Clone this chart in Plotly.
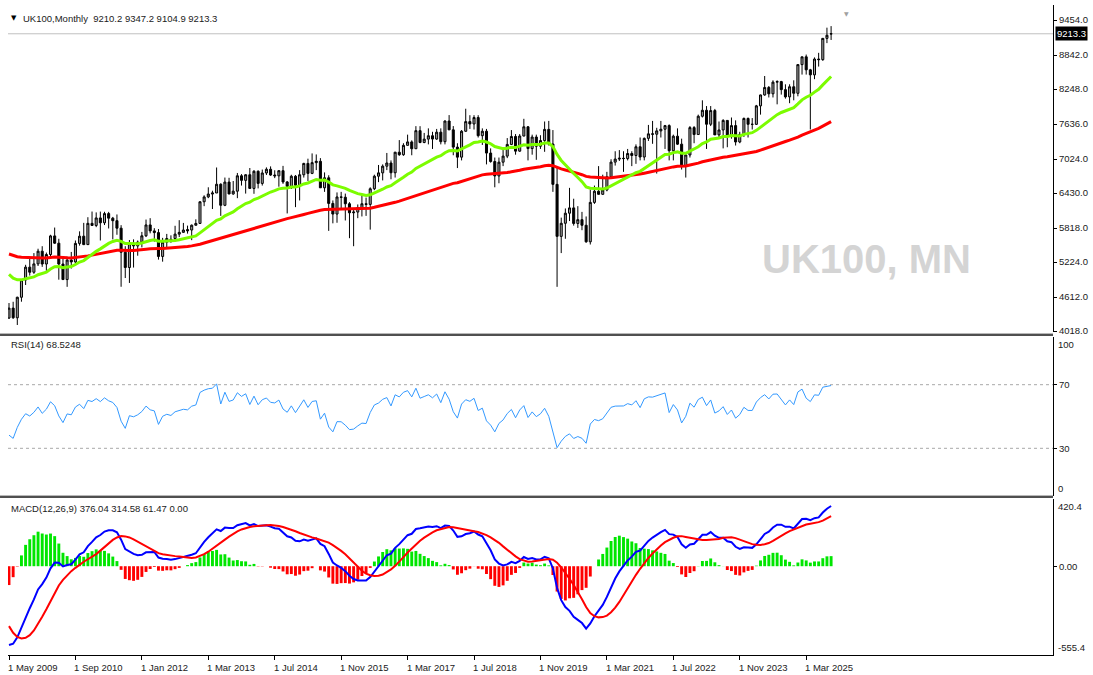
import plotly.graph_objects as go

# ---------------- DATA ----------------
# monthly closes before the visible window (Jan 2000 - Apr 2009), used only for indicator warm-up
hist_closes = [
    6269, 6233, 6540, 6327, 6360, 6313, 6365, 6673, 6294, 6438, 6142, 6223,
    6297, 5918, 5634, 5967, 5797, 5643, 5529, 5345, 4903, 5040, 5204, 5217,
    5165, 5102, 5272, 5166, 5086, 4656, 4246, 4227, 3722, 4039, 4169, 3940,
    3567, 3656, 3613, 3926, 4049, 4031, 4157, 4161, 4091, 4288, 4342, 4477,
    4391, 4492, 4386, 4489, 4431, 4464, 4413, 4459, 4571, 4624, 4703, 4814,
    4852, 4968, 4894, 4801, 4964, 5113, 5282, 5296, 5478, 5317, 5423, 5619,
    5760, 5792, 5965, 6023, 5723, 5833, 5928, 5906, 5961, 6129, 6048, 6221,
    6203, 6172, 6308, 6449, 6621, 6608, 6360, 6303, 6467, 6722, 6433, 6457,
    5880, 5885, 5702, 6087, 6053, 5626, 5412, 5637, 4902, 4377, 4288, 4434,
    4150, 3830, 3926, 4244,
]

# visible monthly bars (May 2009 - Sep 2025)
opens = [
    4244, 4418, 4249, 4608, 4909, 5134, 5045, 5191,
    5413, 5189, 5355, 5680, 5553, 5188, 4917, 5258, 5225, 5549, 5675, 5528,
    5900, 5863, 5994, 5909, 6070, 5990, 5946, 5815, 5395, 5128, 5544, 5505,
    5572, 5682, 5872, 5768, 5738, 5321, 5571, 5620, 5635, 5711, 5742, 5790, 5783, 5867,
    5898, 6277, 6361, 6412, 6430, 6583, 6215, 6621, 6413, 6462, 6731, 6651,
    6749, 6510, 6810, 6598, 6780, 6845, 6744, 6730, 6820, 6623, 6546, 6723,
    6566, 6749, 6947, 6773, 6961, 6984, 6521, 6696, 6248, 6062, 6361, 6356,
    6242, 6084, 6097, 6175, 6242, 6231, 6504, 6724, 6782, 6899, 6954, 6784,
    7143, 7099, 7263, 7323, 7204, 7520, 7313, 7372, 7431, 7373, 7493, 7327,
    7688, 7534, 7232, 7057, 7509, 7678, 7637, 7749, 7432, 7510, 7128, 6980,
    6728, 6969, 7075, 7279, 7418, 7162, 7426, 7587, 7207, 7408, 7248, 7347,
    7542, 7286, 6581, 5672, 5901, 6077, 6170, 5898, 5964, 5866, 5577, 6266,
    6461, 6407, 6483, 6714, 6970, 7023, 7037, 7032, 7120, 7086, 7238, 7059,
    7385, 7464, 7458, 7516, 7545, 7608, 7169, 7423, 7284, 6894, 7095, 7573,
    7452, 7772, 7876, 7632, 7871, 7446, 7532, 7699, 7439, 7608, 7322, 7454,
    7733, 7631, 7630, 7953, 8144, 8275, 8164, 8368, 8377, 8237, 8110, 8287,
    8173, 8674, 8810, 8583, 8495, 8772, 8761, 9133, 9210.2,
]
highs = [
    4507, 4529, 4617, 4920, 5175, 5300, 5380, 5456,
    5500, 5389, 5700, 5826, 5630, 5320, 5318, 5400, 5600, 5760, 5908, 6007,
    6106, 6091, 6105, 6102, 6100, 6012, 6055, 5868, 5500, 5608, 5620, 5600,
    5750, 5966, 5990, 5815, 5800, 5646, 5715, 5690, 5857, 5955, 5907, 5860, 5880, 5970,
    6280, 6390, 6530, 6470, 6876, 6600, 6700, 6696, 6640, 6780, 6760, 6760,
    6867, 6830, 6826, 6840, 6878, 6895, 6828, 6830, 6904, 6640, 6749, 6744,
    6830, 6958, 7030, 7122, 7104, 7040, 6790, 6740, 6300, 6440, 6450, 6420,
    6270, 6150, 6230, 6410, 6350, 6530, 6750, 6920, 6930, 7130, 7000, 7150,
    7355, 7300, 7450, 7350, 7599, 7598, 7480, 7560, 7500, 7550, 7560, 7700,
    7792, 7600, 7300, 7530, 7903, 7790, 7790, 7790, 7560, 7550, 7210, 7050,
    7050, 7220, 7390, 7530, 7460, 7460, 7727, 7600, 7450, 7450, 7440, 7680,
    7690, 7530, 6900, 6000, 6160, 6520, 6330, 6200, 6100, 6020, 6490, 6560,
    6900, 6750, 6800, 7020, 7160, 7180, 7160, 7200, 7160, 7280, 7400, 7400,
    7620, 7690, 7570, 7690, 7620, 7630, 7450, 7560, 7380, 7100, 7600, 7600,
    7800, 8050, 7950, 7950, 7900, 7680, 7720, 7700, 7750, 7700, 7500, 7750,
    7750, 7740, 7970, 8150, 8475, 8300, 8400, 8400, 8390, 8330, 8330, 8400,
    8680, 8800, 8850, 8600, 8800, 8880, 9140, 9320, 9347.2,
]
lows = [
    4230, 4230, 4123, 4530, 4822, 4987, 5017, 5154,
    5139, 5044, 5300, 5541, 4915, 4909, 4790, 5110, 5180, 5510, 5520, 5540,
    5860, 5833, 5600, 5870, 5810, 5620, 5700, 4791, 4944, 4858, 5127, 5334,
    5480, 5660, 5725, 5580, 5266, 5230, 5480, 5560, 5588, 5660, 5737, 5720, 5606, 5860,
    5898, 6200, 6340, 6150, 6430, 6030, 6200, 6410, 6400, 6340, 6560, 6420,
    6510, 6416, 6510, 6560, 6745, 6730, 6690, 6540, 6590, 6073, 6500, 6183,
    6300, 6700, 6640, 6760, 6830, 6520, 6450, 5768, 5900, 5910, 6160, 5950,
    5640, 5500, 5990, 6020, 6030, 5790, 6480, 6620, 6650, 6830, 6670, 6700,
    7080, 7080, 7260, 7090, 7200, 7300, 7300, 7280, 7200, 7360, 7280, 7280,
    7530, 7090, 6866, 7000, 7500, 7550, 7540, 7400, 7270, 6930, 6960, 6530,
    6600, 6900, 7040, 7270, 7100, 7150, 7420, 7000, 7100, 7010, 7200, 7150,
    7260, 6450, 4790, 5380, 5630, 5940, 5860, 5820, 5780, 5560, 5530, 6240,
    6400, 6400, 6460, 6690, 6910, 6990, 6800, 7000, 6900, 6940, 7000, 7000,
    7340, 7290, 6770, 7400, 7200, 7000, 7000, 7270, 6840, 6700, 7050, 7300,
    7450, 7750, 7200, 7600, 7500, 7400, 7210, 7230, 7380, 7260, 7300, 7410,
    7400, 7540, 7620, 7800, 8130, 8100, 8100, 7980, 8150, 8080, 8000, 8050,
    8120, 8500, 8500, 7540, 8420, 8640, 8740, 9050, 9104.9,
]
closes = [
    4418, 4249, 4608, 4909, 5134, 5045, 5191, 5413,
    5189, 5355, 5680, 5553, 5188, 4917, 5258, 5225, 5549, 5675, 5528, 5900,
    5863, 5994, 5909, 6070, 5990, 5946, 5815, 5395, 5128, 5544, 5505, 5572,
    5682, 5872, 5768, 5738, 5321, 5571, 5635, 5600, 5711, 5742, 5783, 5770, 5867, 5898,
    6277, 6361, 6412, 6430, 6583, 6215, 6621, 6413, 6462, 6731, 6651, 6749,
    6510, 6810, 6598, 6780, 6845, 6744, 6730, 6820, 6623, 6546, 6723, 6566,
    6749, 6947, 6773, 6961, 6984, 6521, 6696, 6248, 6062, 6361, 6356, 6242,
    6084, 6097, 6175, 6242, 6231, 6504, 6724, 6782, 6899, 6954, 6784, 7143,
    7099, 7263, 7323, 7204, 7520, 7313, 7372, 7431, 7373, 7493, 7327, 7688,
    7534, 7232, 7057, 7509, 7678, 7637, 7749, 7432, 7510, 7128, 6980, 6728,
    6969, 7075, 7279, 7418, 7162, 7426, 7587, 7207, 7408, 7248, 7347, 7542,
    7286, 6581, 5672, 5901, 6077, 6170, 5898, 5964, 5866, 5577, 6266, 6461,
    6407, 6483, 6714, 6970, 7023, 7037, 7032, 7120, 7086, 7238, 7059, 7385,
    7464, 7458, 7516, 7545, 7608, 7169, 7423, 7284, 6894, 7095, 7573, 7452,
    7772, 7876, 7632, 7871, 7446, 7532, 7699, 7439, 7608, 7322, 7454, 7733,
    7631, 7630, 7953, 8144, 8275, 8164, 8368, 8377, 8237, 8110, 8287, 8173,
    8674, 8810, 8583, 8495, 8772, 8761, 9133, 9187, 9213.3,
]

tick_labels = ["1 May 2009", "1 Sep 2010", "1 Jan 2012", "1 Mar 2013", "1 Jul 2014",
               "1 Nov 2015", "1 Mar 2017", "1 Jul 2018", "1 Nov 2019", "1 Mar 2021",
               "1 Jul 2022", "1 Nov 2023", "1 Mar 2025"]
tick_bars = [0, 16, 32, 48, 64, 80, 96, 112, 128, 144, 160, 176, 192]
price_ticks = [4018.0, 4612.0, 5224.0, 5818.0, 6430.0, 7024.0, 7636.0, 8248.0, 8842.0, 9454.0]
macd_min, macd_max = -555.4, 420.4
rsi_text = "RSI(14) 68.5248"
macd_text = "MACD(12,26,9) 376.04 314.58 61.47 0.00"
symbol_text = "UK100,Monthly"
watermark = "UK100, MN"

# ---------------- INDICATORS ----------------
all_c = hist_closes + closes
nh = len(hist_closes)

def sma(v, n):
    out = [None] * len(v)
    for i in range(n - 1, len(v)):
        out[i] = sum(v[i - n + 1:i + 1]) / n
    return out

def ema(v, n):
    k = 2.0 / (n + 1)
    out = [v[0]]
    for x in v[1:]:
        out.append(x * k + out[-1] * (1 - k))
    return out

def smma(v, n):
    out = [v[0]]
    for x in v[1:]:
        out.append((out[-1] * (n - 1) + x) / n)
    return out

def rsi(v, n=14):
    out = [None] * len(v)
    gains = [max(v[i] - v[i - 1], 0) for i in range(1, len(v))]
    losses = [max(v[i - 1] - v[i], 0) for i in range(1, len(v))]
    ag = sum(gains[:n]) / n
    al = sum(losses[:n]) / n
    out[n] = 100 - 100 / (1 + ag / al) if al else 100
    for i in range(n + 1, len(v)):
        ag = (ag * (n - 1) + gains[i - 1]) / n
        al = (al * (n - 1) + losses[i - 1]) / n
        out[i] = 100 - 100 / (1 + ag / al) if al else 100
    return out

ma_fast = ema(all_c, 22)[nh:]
ma_slow = smma(all_c, 40)[nh:]
rsi_v = rsi(all_c, 14)[nh:]
e12, e26 = ema(all_c, 12), ema(all_c, 26)
macd_all = [a - b for a, b in zip(e12, e26)]
sig_all = sma(macd_all, 9)
macd_v = macd_all[nh:]
sig_v = sig_all[nh:]
hist_v = [m - s for m, s in zip(macd_v, sig_v)]

xs = list(range(len(closes)))

# ---------------- LAYOUT GEOMETRY (pixels) ----------------
W, H = 1093, 675
PL, PR, PT, PB = 8, 1055, 5, 655
X0_PX, BAR_PX = 9, 4.16
def fx(px): return (px - PL) / (PR - PL)
def fy(py): return (PB - py) / (PB - PT)
x_lo = (PL - X0_PX) / BAR_PX
x_hi = (PR - X0_PX) / BAR_PX
# price scale calibration from label positions
p_hi, p_hi_px, p_lo, p_lo_px = 9454.0, 20, 4018.0, 331
ppx = (p_hi - p_lo) / (p_lo_px - p_hi_px)
main_top_px, main_bot_px = PT, 332
rsi_top_px, rsi_bot_px = 337, 496
macd_top_px, macd_bot_px = 499, PB
y_range = [p_lo - (main_bot_px - p_lo_px) * ppx, p_hi + (p_hi_px - main_top_px) * ppx]

FONT = "Liberation Sans, Arial, sans-serif"
FS = 9.5
TXT = "#1a1a1a"

fig = go.Figure()
fig.add_trace(go.Candlestick(
    x=xs, open=opens, high=highs, low=lows, close=closes,
    increasing=dict(line=dict(color="black", width=1), fillcolor="#A0A0A0"),
    decreasing=dict(line=dict(color="black", width=1), fillcolor="black"),
    whiskerwidth=0, xaxis="x", yaxis="y", showlegend=False, hoverinfo="skip"))
fig.add_trace(go.Scatter(x=xs, y=ma_slow, mode="lines", line=dict(color="#FF0000", width=3),
                         xaxis="x", yaxis="y", hoverinfo="skip"))
fig.add_trace(go.Scatter(x=xs, y=ma_fast, mode="lines", line=dict(color="#7CFC00", width=3),
                         xaxis="x", yaxis="y", hoverinfo="skip"))
fig.add_trace(go.Scatter(x=xs, y=rsi_v, mode="lines", line=dict(color="#3399FF", width=1),
                         xaxis="x", yaxis="y2", hoverinfo="skip"))
fig.add_trace(go.Bar(x=xs, y=hist_v, width=0.7,
                     marker=dict(color=["#00E600" if v > 0 else "#FF0000" for v in hist_v], line=dict(width=0)),
                     xaxis="x", yaxis="y3", hoverinfo="skip"))
fig.add_trace(go.Scatter(x=xs, y=macd_v, mode="lines", line=dict(color="#0000FF", width=2),
                         xaxis="x", yaxis="y3", hoverinfo="skip"))
fig.add_trace(go.Scatter(x=xs, y=sig_v, mode="lines", line=dict(color="#FF0000", width=2),
                         xaxis="x", yaxis="y3", hoverinfo="skip"))

axis_common = dict(showgrid=False, zeroline=False, showline=True, linecolor="black", linewidth=1,
                   side="right", anchor="x", ticks="outside", ticklen=3, tickcolor="black",
                   tickfont=dict(family=FONT, size=FS, color=TXT), fixedrange=True)

fig.update_layout(
    width=W, height=H, margin=dict(l=PL, r=W - PR, t=PT, b=H - PB),
    paper_bgcolor="white", plot_bgcolor="white", showlegend=False,
    xaxis=dict(domain=[0, 1], range=[x_lo, x_hi], anchor="y3", showgrid=False, zeroline=False,
               showline=True, linecolor="black", linewidth=1, ticks="outside", ticklen=4,
               tickcolor="black", tickvals=tick_bars, showticklabels=False,
               rangeslider=dict(visible=False), fixedrange=True),
    yaxis=dict(domain=[fy(main_bot_px), fy(main_top_px)], range=y_range,
               tickvals=price_ticks, ticktext=[f"{v:.1f}" for v in price_ticks], **axis_common),
    yaxis2=dict(domain=[fy(rsi_bot_px), fy(rsi_top_px)], range=[0, 100],
                tickvals=[30, 70], ticktext=["30", "70"], **axis_common),
    yaxis3=dict(domain=[fy(macd_bot_px), fy(macd_top_px)], range=[macd_min, macd_max],
                tickvals=[0], ticktext=["0.00"], **axis_common),
)

shapes = []
# current price line
shapes.append(dict(type="line", xref="paper", yref="y", x0=0, x1=1, y0=closes[-1], y1=closes[-1],
                   line=dict(color="#C0C0C0", width=1), layer="below"))
# RSI levels
for lvl in (70, 30):
    shapes.append(dict(type="line", xref="paper", yref="y2", x0=0, x1=1, y0=lvl, y1=lvl,
                       line=dict(color="#A8A8A8", width=1, dash="dot"), layer="below"))
# panel separators
for top in (main_bot_px + 1, rsi_bot_px - 1):
    shapes.append(dict(type="rect", xref="paper", yref="paper", x0=fx(0), x1=1,
                       y0=fy(top), y1=fy(top + 1), fillcolor="#B8B8B8", line=dict(width=0)))
    shapes.append(dict(type="rect", xref="paper", yref="paper", x0=fx(0), x1=1,
                       y0=fy(top + 1), y1=fy(top + 3), fillcolor="#505050", line=dict(width=0)))
fig.update_layout(shapes=shapes)

ann = []
def txt(x, y, s, xref="paper", yref="paper", xanchor="left", yanchor="middle", size=FS, color=TXT, **kw):
    ann.append(dict(x=x, y=y, xref=xref, yref=yref, text=s, showarrow=False, xanchor=xanchor,
                    yanchor=yanchor, font=dict(family=FONT, size=size, color=color), **kw))

ann.append(dict(x=fx(14), y=fy(18), xref="paper", yref="paper", text="▼", showarrow=False,
                xanchor="center", yanchor="middle",
                font=dict(family="DejaVu Sans", size=7, color="black")))
txt(fx(21), fy(18), f"{symbol_text}  {opens[-1]:.1f} {highs[-1]:.1f} {lows[-1]:.1f} {closes[-1]:.1f}")
txt(fx(9), fy(345), rsi_text)
txt(fx(9), fy(509), macd_text)
for b, lab in zip(tick_bars, tick_labels):
    txt(b, fy(667), lab, xref="x", xshift=-3)
# inner extreme labels for indicator panes
txt(1, 100, "100", yref="y2", yanchor="top", xshift=3)
txt(1, 0, "0", yref="y2", yanchor="bottom", xshift=3)
txt(1, macd_max, f"{macd_max:.1f}", yref="y3", yanchor="top", xshift=3)
txt(1, macd_min, f"{macd_min:.1f}", yref="y3", yanchor="bottom", xshift=3)
# current price tag
ann.append(dict(x=1, y=closes[-1], xref="paper", yref="y", text=f"{closes[-1]:.1f}", showarrow=False,
                xanchor="left", yanchor="middle", xshift=2, bgcolor="black", borderpad=1,
                font=dict(family=FONT, size=FS, color="white")))
# watermark
ann.append(dict(x=fx(868), y=fy(259), xref="paper", yref="paper", text=f"<b>{watermark}</b>",
                showarrow=False, xanchor="center", yanchor="middle",
                font=dict(family=FONT, size=40, color="#D4D4D4")))
# chart shift marker
ann.append(dict(x=fx(848), y=fy(13), xref="paper", yref="paper", text="▼", showarrow=False,
                xanchor="center", yanchor="middle",
                font=dict(family="DejaVu Sans", size=6, color="#A0A0A0")))
fig.update_layout(annotations=ann)

fig.write_html("out.html", config={"displayModeBar": False, "staticPlot": True},
               post_script="document.body.style.margin='0px';document.body.style.overflow='hidden';")
